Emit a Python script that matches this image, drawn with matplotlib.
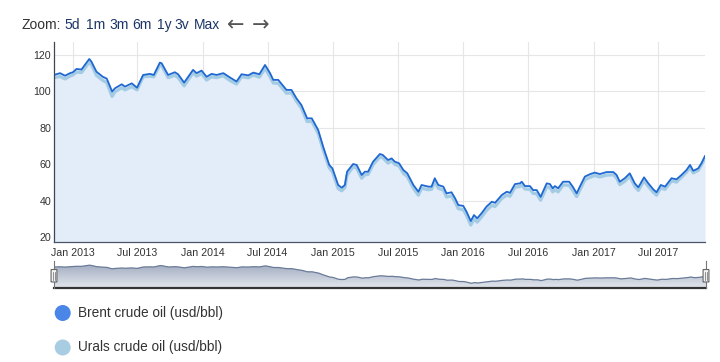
import numpy as np
import pandas as pd
import matplotlib
matplotlib.use("Agg")
import matplotlib.pyplot as plt
import matplotlib.dates as mdates
from matplotlib.patches import Circle, FancyBboxPatch

plt.rcParams["font.family"] = ["Liberation Sans", "DejaVu Sans"]

# data (usd/bbl)
dates = [
    "2012-11-09", "2012-11-26", "2012-12-10", "2012-12-24", "2013-01-01", "2013-01-11",
    "2013-01-25", "2013-02-16", "2013-02-22", "2013-03-08", "2013-03-26", "2013-04-06",
    "2013-04-21", "2013-04-29", "2013-05-18", "2013-05-27", "2013-06-15", "2013-06-30",
    "2013-07-17", "2013-08-05", "2013-08-16", "2013-09-02", "2013-09-07", "2013-09-25",
    "2013-10-14", "2013-10-23", "2013-11-09", "2013-12-04", "2013-12-14", "2013-12-28",
    "2014-01-11", "2014-01-25", "2014-02-08", "2014-02-27", "2014-03-17", "2014-04-05",
    "2014-04-19", "2014-05-08", "2014-05-22", "2014-06-08", "2014-06-24", "2014-07-08",
    "2014-07-17", "2014-07-31", "2014-08-23", "2014-09-06", "2014-09-20", "2014-10-04",
    "2014-10-20", "2014-11-02", "2014-11-20", "2014-12-04", "2014-12-21", "2014-12-30",
    "2015-01-15", "2015-01-25", "2015-02-03", "2015-02-09", "2015-02-26", "2015-03-08",
    "2015-03-22", "2015-03-31", "2015-04-09", "2015-04-23", "2015-05-12", "2015-05-20",
    "2015-06-04", "2015-06-14", "2015-06-23", "2015-07-05", "2015-07-17", "2015-07-28",
    "2015-08-14", "2015-08-28", "2015-09-06", "2015-09-25", "2015-10-04", "2015-10-13",
    "2015-10-23", "2015-11-06", "2015-11-15", "2015-11-29", "2015-12-09", "2015-12-18",
    "2016-01-01", "2016-01-10", "2016-01-22", "2016-01-31", "2016-02-09", "2016-02-21",
    "2016-03-06", "2016-03-21", "2016-03-30", "2016-04-18", "2016-05-02", "2016-05-11",
    "2016-05-25", "2016-06-08", "2016-06-13", "2016-06-22", "2016-07-06", "2016-07-15",
    "2016-07-25", "2016-08-05", "2016-08-22", "2016-08-31", "2016-09-08", "2016-09-14",
    "2016-09-23", "2016-10-07", "2016-10-24", "2016-11-03", "2016-11-14", "2016-11-23",
    "2016-12-07", "2016-12-21", "2017-01-04", "2017-01-18", "2017-02-06", "2017-02-25",
    "2017-03-06", "2017-03-15", "2017-03-29", "2017-04-12", "2017-04-26", "2017-05-06",
    "2017-05-22", "2017-06-03", "2017-06-17", "2017-06-26", "2017-07-08", "2017-07-20",
    "2017-08-07", "2017-08-21", "2017-09-04", "2017-09-18", "2017-09-28", "2017-10-07",
    "2017-10-21", "2017-10-30", "2017-11-09",
]
brent = [
    109.0, 110.0, 108.6, 110.0, 110.5, 112.3, 112.0, 117.8, 116.3, 110.8, 108.0, 107.0,
    99.9, 101.7, 103.9, 102.6, 104.4, 102.0, 109.0, 109.6, 109.0, 115.8, 115.4, 109.0,
    110.5, 109.4, 104.8, 111.8, 110.0, 111.4, 108.0, 109.6, 109.0, 110.0, 107.7, 105.4,
    109.4, 108.8, 110.3, 109.4, 114.5, 110.0, 106.3, 106.3, 100.8, 100.8, 96.2, 92.5,
    85.2, 85.2, 78.8, 69.6, 59.6, 57.7, 48.6, 47.1, 48.6, 55.9, 60.1, 59.6,
    54.1, 55.9, 55.9, 61.4, 65.6, 65.1, 62.3, 63.2, 61.4, 60.5, 56.8, 55.0,
    48.6, 44.9, 48.6, 47.7, 47.7, 52.3, 48.6, 47.7, 44.0, 44.6, 41.3, 37.6,
    37.1, 34.0, 28.8, 32.1, 30.3, 33.0, 36.7, 39.4, 38.8, 43.1, 44.9, 44.3,
    49.1, 49.5, 50.4, 48.0, 48.0, 45.8, 45.8, 42.1, 49.5, 49.1, 46.8, 48.0,
    46.8, 50.4, 50.4, 47.7, 44.0, 47.7, 53.2, 54.5, 55.4, 54.6, 55.7, 55.7,
    54.1, 50.4, 52.3, 55.0, 49.5, 47.3, 52.8, 49.5, 46.2, 44.6, 48.6, 47.7,
    52.3, 51.7, 54.1, 56.8, 59.6, 56.4, 57.7, 60.5, 64.5,
]
urals = [
    107.5, 108.2, 106.8, 108.4, 109.0, 110.6, 110.3, 116.0, 114.6, 108.8, 106.0, 104.8,
    97.2, 99.8, 102.0, 100.8, 102.6, 100.8, 108.0, 108.3, 108.0, 114.6, 114.2, 107.5,
    108.8, 107.6, 103.0, 110.2, 108.3, 109.8, 106.2, 108.0, 107.5, 108.6, 106.0, 104.0,
    108.0, 107.4, 109.0, 107.8, 112.6, 108.0, 104.6, 104.4, 99.0, 99.2, 94.6, 90.8,
    83.4, 83.6, 77.0, 67.8, 58.0, 55.8, 46.6, 45.4, 47.2, 54.0, 58.6, 57.8,
    52.3, 54.2, 54.4, 59.8, 64.0, 63.6, 60.6, 61.8, 59.9, 59.0, 55.0, 53.2,
    46.8, 43.0, 46.8, 46.0, 46.2, 50.4, 46.8, 45.8, 42.0, 42.6, 39.2, 35.6,
    35.0, 32.0, 26.6, 30.0, 28.2, 31.0, 34.6, 37.4, 36.8, 41.2, 43.0, 42.4,
    47.4, 47.8, 48.6, 46.4, 46.2, 44.0, 43.8, 40.2, 47.6, 47.2, 44.8, 46.0,
    44.8, 48.6, 48.4, 45.6, 42.2, 45.8, 51.4, 52.8, 53.8, 53.0, 54.0, 54.2,
    52.4, 48.8, 50.6, 53.4, 47.8, 45.6, 51.0, 47.8, 44.6, 43.0, 47.0, 46.2,
    50.8, 50.2, 52.8, 55.6, 58.2, 55.2, 56.6, 59.6, 63.4,
]
series_names = ["Brent crude oil (usd/bbl)", "Urals crude oil (usd/bbl)"]
zoom_buttons = ["5d", "1m", "3m", "6m", "1y", "3v", "Max"]

x = pd.to_datetime(dates)

fig = plt.figure(figsize=(7.2, 3.62), dpi=100)
ax = fig.add_axes([54 / 720, 1 - 242 / 362, 651 / 720, 200 / 362])

brent_c = "#1f68d2"
urals_c = "#a3cbe4"
fill_c = "#e3edf9"

ax.fill_between(x, brent, 0, color=fill_c, lw=0, zorder=1)
ax.plot(x, urals, color=urals_c, lw=2.3, zorder=3, solid_joinstyle="round")
ax.plot(x, brent, color=brent_c, lw=1.3, zorder=4, solid_joinstyle="round")

ax.set_xlim(pd.Timestamp("2012-11-09"), pd.Timestamp("2017-11-09"))
ax.set_ylim(17.3, 127.1)
ax.set_yticks([20, 40, 60, 80, 100, 120])
ax.xaxis.set_major_locator(mdates.MonthLocator(bymonth=[1, 7]))
ax.xaxis.set_major_formatter(mdates.DateFormatter("%b %Y"))
ax.grid(True, color="#e6e6e6", lw=0.8, zorder=0)
ax.set_axisbelow(True)
ax.tick_params(length=0, labelsize=7.7, colors="#333333")
ax.tick_params(axis="y", pad=2)
ax.tick_params(axis="x", pad=4)
for s in ["top", "right"]:
    ax.spines[s].set_visible(False)
ax.spines["left"].set_color("#3c4656")
ax.spines["bottom"].set_color("#4a5568")
ax.spines["left"].set_linewidth(0.9)
ax.spines["bottom"].set_linewidth(0.9)
ax.spines["left"].set_zorder(5)
ax.spines["bottom"].set_zorder(5)

# navigator
nav = fig.add_axes([54 / 720, 1 - 287.5 / 362, 652 / 720, 25 / 362])
nav.set_xlim(ax.get_xlim())
nav.set_ylim(8, 131)
poly = nav.fill_between(x, brent, 0, color="none", lw=0)
grad = np.linspace(0, 1, 100).reshape(-1, 1)
img = nav.imshow(grad, extent=[*nav.get_xlim(), 8, 131], aspect="auto",
                 cmap=matplotlib.colors.LinearSegmentedColormap.from_list(
                     "g", ["#dfe3ea", "#9ea9be"]), origin="lower", zorder=1)
img.set_clip_path(poly.get_paths()[0], transform=nav.transData)
nav.plot(x, brent, color="#6a7b98", lw=0.9, zorder=2)
nav.set_xticks([])
nav.set_yticks([])
for s in ["top", "right", "left"]:
    nav.spines[s].set_visible(False)
nav.spines["bottom"].set_color("#333333")
nav.spines["bottom"].set_linewidth(1.6)
for hx in [0.0, 1.0]:
    nav.plot([hx, hx], [0, 1.05], transform=nav.transAxes, color="#777777",
             lw=0.8, clip_on=False, zorder=3)
    hb = FancyBboxPatch((hx - 0.0045, 0.22), 0.009, 0.5,
                        boxstyle="round,pad=0,rounding_size=0.004",
                        transform=nav.transAxes, fc="#f2f2f2", ec="#666666",
                        lw=0.8, clip_on=False, zorder=4)
    nav.add_patch(hb)
    nav.plot([hx - 0.0012, hx - 0.0012], [0.32, 0.62], transform=nav.transAxes,
             color="#666666", lw=0.5, clip_on=False, zorder=5)
    nav.plot([hx + 0.0012, hx + 0.0012], [0.32, 0.62], transform=nav.transAxes,
             color="#666666", lw=0.5, clip_on=False, zorder=5)

# zoom bar
ty = 1 - 25 / 362
fig.text(21 / 720, ty, "Zoom:", fontsize=10, color="#333333", va="center")
btn_x = [64, 86, 109, 132, 157, 174, 194]
for bx, b in zip(btn_x, zoom_buttons):
    fig.text(bx / 720, ty, b, fontsize=10, color="#1b3566", va="center")
fig.text(227 / 720, ty, "\u2190", fontsize=15, color="#555555", va="center",
         family="DejaVu Sans")
fig.text(252 / 720, ty, "\u2192", fontsize=15, color="#555555", va="center",
         family="DejaVu Sans")

# legend
leg_colors = ["#4a86e8", "#a8cde2"]
for i, (name, c) in enumerate(zip(series_names, leg_colors)):
    cy = (362 - (313 + 34.5 * i)) / 100
    fig.add_artist(Circle((0.627, cy), 0.08, transform=fig.dpi_scale_trans,
                          fc=c, ec="none"))
    fig.text(0.775, cy, name, transform=fig.dpi_scale_trans, fontsize=9.8,
             color="#333333", va="center")

fig.savefig("out.png", dpi=100)
